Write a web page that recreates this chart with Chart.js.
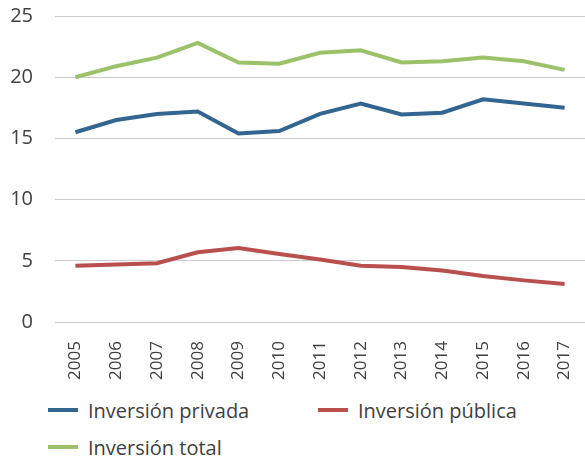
<!DOCTYPE html>
<html>
<head>
<meta charset="utf-8">
<script src="https://cdn.jsdelivr.net/npm/chart.js@4.4.1/dist/chart.umd.min.js"></script>
<style>
  body { margin: 0; background: #fff; font-family: 'Open Sans', sans-serif; overflow: hidden; }
  #wrap { position: relative; width: 585px; height: 390px; }
  #leyenda { position: absolute; left: 48px; top: 398px; width: 540px; display: flex; flex-wrap: wrap; row-gap: 13px; }
  .item { display: flex; align-items: center; width: 270px; height: 24px; font-size: 20px; color: #404040; }
  .item .linea { width: 30px; height: 4px; margin-right: 10px; }
</style>
</head>
<body>
<div id="wrap"><canvas id="graficoInversion" width="585" height="390"></canvas></div>
<div id="leyenda"></div>
<script>
  const anios = ['2005', '2006', '2007', '2008', '2009', '2010', '2011', '2012', '2013', '2014', '2015', '2016', '2017'];
  const inversionPrivada = [15.5, 16.5, 17.0, 17.2, 15.4, 15.6, 17.0, 17.85, 16.95, 17.1, 18.2, 17.85, 17.5];
  const inversionPublica = [4.6, 4.7, 4.8, 5.7, 6.05, 5.55, 5.1, 4.6, 4.5, 4.2, 3.75, 3.4, 3.1];
  const inversionTotal = [20.0, 20.9, 21.6, 22.8, 21.2, 21.1, 22.0, 22.2, 21.2, 21.3, 21.6, 21.3, 20.6];
  const marcasY = [0, 5, 10, 15, 20, 25];

  const series = [
    { label: 'Inversión privada', data: inversionPrivada, color: '#336591' },
    { label: 'Inversión pública', data: inversionPublica, color: '#b9504e' },
    { label: 'Inversión total', data: inversionTotal, color: '#9bc26b' }
  ];

  const ctx = document.getElementById('graficoInversion').getContext('2d');
  const grafico = new Chart(ctx, {
    type: 'line',
    data: {
      labels: anios,
      datasets: series.map(s => ({
        label: s.label,
        data: s.data,
        borderColor: s.color,
        backgroundColor: s.color,
        borderWidth: 4,
        pointRadius: 0,
        tension: 0,
        fill: false
      }))
    },
    options: {
      responsive: false,
      animation: false,
      layout: { padding: { top: 16, left: 0, right: 0, bottom: 0 } },
      plugins: {
        legend: { display: false },
        tooltip: { enabled: false }
      },
      scales: {
        y: {
          min: marcasY[0],
          max: marcasY[marcasY.length - 1],
          afterBuildTicks: axis => { axis.ticks = marcasY.map(v => ({ value: v })); },
          afterFit: axis => {
            axis.width = 55;
            axis.paddingTop = 0;
            axis.paddingBottom = 0;
          },
          border: { display: false },
          grid: { color: '#cccccc', lineWidth: 1, drawTicks: false },
          ticks: {
            color: '#404040',
            padding: 22,
            font: { family: 'Open Sans', size: 20 }
          }
        },
        x: {
          offset: true,
          afterFit: axis => {
            axis.height = 68;
            axis.paddingLeft = 0;
            axis.paddingRight = 0;
          },
          border: { display: false },
          grid: { display: false, drawTicks: false },
          ticks: {
            color: '#404040',
            minRotation: 90,
            maxRotation: 90,
            autoSkip: false,
            padding: 19,
            font: { family: 'Open Sans', size: 17 }
          }
        }
      }
    }
  });

  // leyenda en HTML para controlar la separación entre elementos
  const leyenda = document.getElementById('leyenda');
  series.forEach(s => {
    const item = document.createElement('div');
    item.className = 'item';
    const linea = document.createElement('span');
    linea.className = 'linea';
    linea.style.background = s.color;
    item.appendChild(linea);
    item.appendChild(document.createTextNode(s.label));
    leyenda.appendChild(item);
  });
</script>
</body>
</html>
